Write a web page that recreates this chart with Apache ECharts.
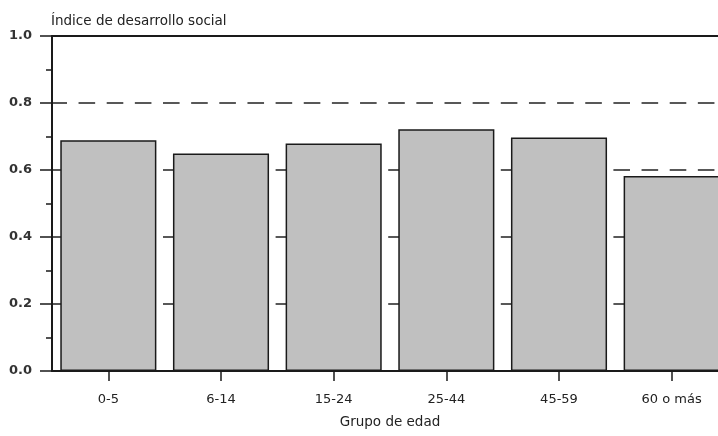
<!DOCTYPE html>
<html>
<head>
<meta charset="utf-8">
<script src="https://cdn.jsdelivr.net/npm/echarts@6/dist/echarts.min.js"></script>
<style>
html,body{margin:0;padding:0;background:#fff;}
#c{width:718px;height:436px;}
</style>
</head>
<body>
<div id="c"></div>
<script>
const categories = ['0-5', '6-14', '15-24', '25-44', '45-59', '60 o más'];
const values = [0.689, 0.649, 0.679, 0.722, 0.697, 0.582];
const yTicks = [0, 0.2, 0.4, 0.6, 0.8, 1.0];
const yTitle = 'Índice de desarrollo social';
const xTitle = 'Grupo de edad';

const font = 'DejaVu Sans';
const ink = '#1a1a1a';
const chart = echarts.init(document.getElementById('c'), null, {renderer: 'canvas'});
chart.setOption({
  animation: false,
  backgroundColor: '#fff',
  title: {
    text: yTitle, left: 51, top: 14, padding: 0,
    textStyle: {fontFamily: font, fontSize: 13.5, fontWeight: 'normal', color: '#222'}
  },
  grid: {left: 52, width: 676, top: 36, height: 335, containLabel: false, outerBoundsMode: 'none'},
  xAxis: [{
    type: 'category', data: categories, position: 'bottom',
    axisLine: {show: true, lineStyle: {color: ink, width: 2}},
    axisTick: {show: true, alignWithLabel: true, length: 10, lineStyle: {color: ink, width: 1.5}},
    axisLabel: {fontFamily: font, fontSize: 13, color: '#222', margin: 22},
    name: xTitle, nameLocation: 'middle', nameGap: 44,
    nameTextStyle: {fontFamily: font, fontSize: 13.5, color: '#222'},
    splitLine: {show: false}
  }, {
    type: 'category', data: categories, position: 'top',
    axisLine: {show: true, lineStyle: {color: ink, width: 2}},
    axisTick: {show: false}, axisLabel: {show: false}, splitLine: {show: false}
  }],
  yAxis: {
    type: 'value', min: yTicks[0], max: yTicks[yTicks.length - 1], interval: 0.2,
    axisLine: {show: true, lineStyle: {color: ink, width: 2}},
    axisTick: {show: true, length: 12, lineStyle: {color: ink, width: 1.5}},
    minorTick: {show: true, splitNumber: 2, length: 6, lineStyle: {color: ink, width: 1.5}},
    axisLabel: {fontFamily: font, fontSize: 13, fontWeight: 'bold', color: '#333', margin: 20,
      formatter: v => v.toFixed(1)},
    splitLine: {show: true, lineStyle: {color: '#222', width: 1.5, type: [16.6, 11.55], dashOffset: 1.6}}
  },
  series: [{
    type: 'bar', data: values, barCategoryGap: '14.7%',
    itemStyle: {color: '#c0c0c0', borderColor: ink, borderWidth: 1.5},
    emphasis: {disabled: true}
  }]
});
</script>
</body>
</html>
